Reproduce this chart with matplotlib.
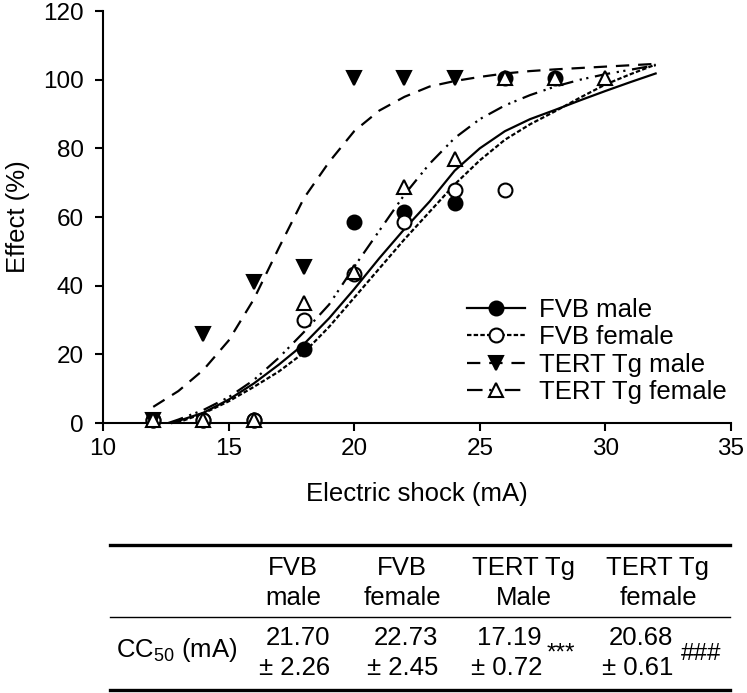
import numpy as np
import matplotlib
matplotlib.use("Agg")
from matplotlib import pyplot as plt
from matplotlib.lines import Line2D

plt.rcParams['font.family'] = ['Liberation Sans', 'DejaVu Sans']
plt.rcParams['mathtext.fontset'] = 'custom'
plt.rcParams['mathtext.rm'] = 'Liberation Sans'

# measured points (Effect %)
fvb_m_x = [12, 14, 16, 18, 20, 22, 24, 26, 28]
fvb_m_y = [1, 1, 1, 21.5, 58.5, 61.5, 64, 100.5, 100.5]
fvb_f_x = [12, 14, 16, 18, 20, 22, 24, 26]
fvb_f_y = [1, 1, 1, 30, 43.5, 58.5, 68, 68]
tert_m_x = [12, 14, 16, 18, 20, 22, 24]
tert_m_y = [1, 26, 41, 45.5, 100.5, 100.5, 100.5]
tert_f_x = [12, 14, 16, 18, 20, 22, 24, 26, 28, 30]
tert_f_y = [1, 1, 1, 35, 44, 68.7, 77, 100.5, 100.5, 100.5]

# fitted curves
fit_x = list(range(13, 33))
fvb_m_fit = [0.6, 3, 6.8, 11.5, 17, 23, 30.5, 39, 48, 56.5, 64.5, 73.5, 80, 85, 88.5, 91.2, 94, 96.7, 99.3, 101.8]
fvb_f_fit = [0.2, 2.8, 6.3, 10.5, 15, 20.5, 28, 36.5, 45, 53.5, 61.5, 69.5, 76.5, 82.5, 87, 90.8, 94.8, 98.6, 101.6, 104.4]
tert_m_fit = [9.3, 15.5, 24, 36, 51, 65.5, 76, 85, 91, 95, 98, 99.6, 100.8, 101.8, 102.5, 103, 103.4, 103.8, 104.2, 104.6]
tert_f_fit = [1, 3.8, 7.5, 12.5, 19, 26.5, 34.5, 45.5, 56, 66.5, 75.5, 83, 88.5, 92.5, 95.5, 98, 100, 101.6, 102.9, 104.2]
fvb_m_start = (12.75, 0)
fvb_f_start = (12.95, 0)
tert_m_start = (12, 4.7)
tert_f_start = (12.6, 0)

# table
groups = [("FVB", "male"), ("FVB", "female"), ("TERT Tg", "Male"), ("TERT Tg", "female")]
cc50 = ["21.70", "22.73", "17.19", "20.68"]
cc50_sd = ["2.26", "2.45", "0.72", "0.61"]
marks = ["", "", "***", "###"]

W, H = 747, 693
fig = plt.figure(figsize=(W / 100, H / 100), dpi=100)
ax = fig.add_axes([103 / W, 1 - 423 / H, (731 - 103) / W, (423 - 11) / H])

fs = 18.5
series = [
    (fvb_m_x, fvb_m_y, fvb_m_start, fvb_m_fit, '-', 'o', 'black', "FVB male"),
    (fvb_f_x, fvb_f_y, fvb_f_start, fvb_f_fit, (0, (2, 1)), 'o', 'white', "FVB female"),
    (tert_m_x, tert_m_y, tert_m_start, tert_m_fit, (0, (6, 4)), 'v', 'black', "TERT Tg male"),
    (tert_f_x, tert_f_y, tert_f_start, tert_f_fit, (0, (7, 3, 1, 2, 1, 3)), '^', 'white', "TERT Tg female"),
]
handles = []
for px, py, st, fit, ls, mk, fc, lab in series:
    ax.plot([st[0]] + fit_x, [st[1]] + fit, color='black', linestyle=ls, lw=1.6, clip_on=False)
    ax.plot(px, py, linestyle='none', marker=mk, markersize=10, markerfacecolor=fc,
            markeredgecolor='black', markeredgewidth=1.5, clip_on=False, zorder=3)
    handles.append(Line2D([], [], color='black', linestyle=ls, lw=1.6, marker=mk, markersize=10,
                          markerfacecolor=fc, markeredgecolor='black', markeredgewidth=1.5))

ax.set_xlim(10, 35)
ax.set_ylim(0, 120)
ax.set_xticks([10, 15, 20, 25, 30, 35])
ax.set_yticks([0, 20, 40, 60, 80, 100, 120])
for s in ['top', 'right']:
    ax.spines[s].set_visible(False)
for s in ['left', 'bottom']:
    ax.spines[s].set_linewidth(1.5)
ax.tick_params(direction='out', length=6, width=1.5, labelsize=17.5)
ax.tick_params(axis='x', pad=5)
ax.tick_params(axis='y', pad=8)
ax.set_xlabel("Electric shock (mA)", fontsize=fs, labelpad=16)
ax.set_ylabel("Effect (%)", fontsize=fs, labelpad=9)

ax.legend(handles, [s[7] for s in series], loc='upper left', bbox_to_anchor=(467 / W, 1 - 298 / H),
          bbox_transform=fig.transFigure, frameon=False, fontsize=fs, handlelength=2.25,
          handletextpad=0.55, labelspacing=0.13, borderpad=0, borderaxespad=0)

# table lines
def hline(y, lw):
    fig.add_artist(Line2D([110 / W, 730 / W], [1 - y / H, 1 - y / H], color='black', lw=lw,
                          transform=fig.transFigure))

hline(545, 2.4)
hline(617, 1.0)
hline(690, 2.4)

col_c = [293, 402, 524, 658]
col_r = [330, 438, 542, 673]
mark_x = [0, 0, 547, 681]
for i, (a, b) in enumerate(groups):
    fig.text(col_c[i] / W, 1 - 568 / H, a, ha='center', va='center', fontsize=fs)
    fig.text(col_c[i] / W, 1 - 598 / H, b, ha='center', va='center', fontsize=fs)
    fig.text(col_r[i] / W, 1 - 638 / H, cc50[i], ha='right', va='center', fontsize=fs)
    fig.text(col_r[i] / W, 1 - 668 / H, "\u00b1 " + cc50_sd[i], ha='right', va='center', fontsize=fs)
    if marks[i]:
        fig.text(mark_x[i] / W, 1 - 654 / H, marks[i], ha='left', va='center', fontsize=17.5)
fig.text(238 / W, 1 - 650 / H, "CC$_{50}$ (mA)", ha='right', va='center', fontsize=fs)

fig.savefig("out.png", dpi=100)
